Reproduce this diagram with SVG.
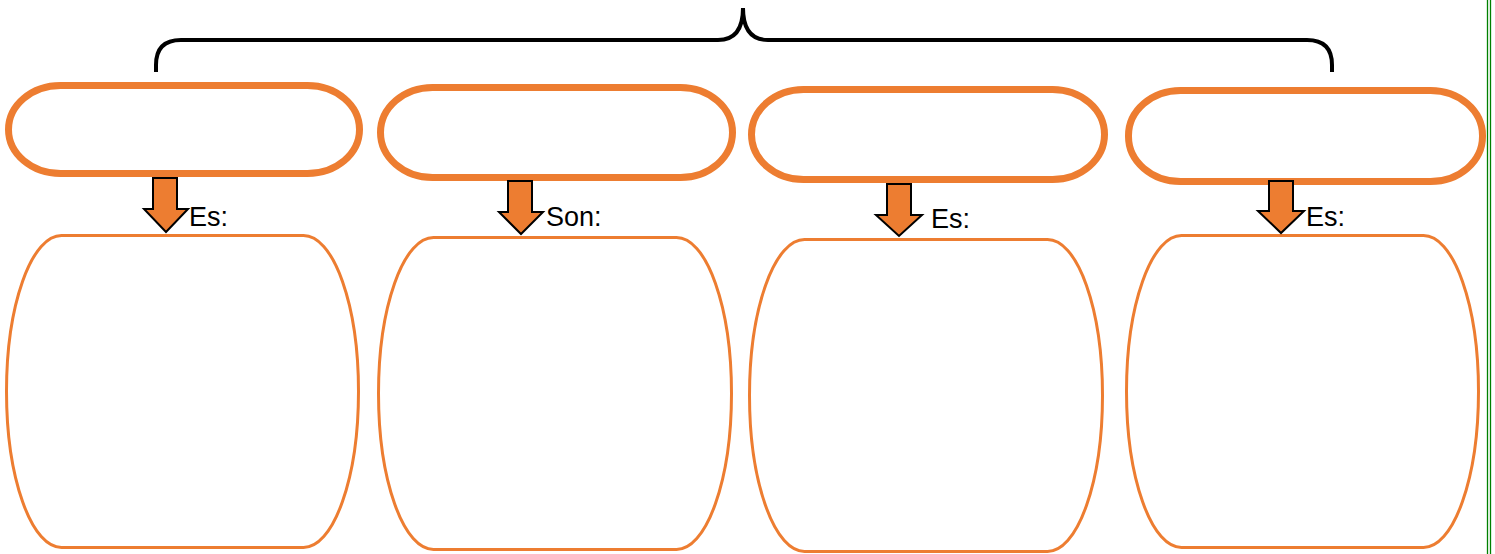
<svg xmlns="http://www.w3.org/2000/svg" width="1495" height="554" viewBox="0 0 1495 554">
<style>
.pill{fill:#fff;stroke:#ED7D31;stroke-width:7}
.box{fill:#fff;stroke:#ED7D31;stroke-width:3}
.arr{fill:#ED7D31;stroke:#000;stroke-width:2;stroke-linejoin:miter}
.lbl{font-family:"Liberation Sans",Arial,sans-serif;font-size:27px;fill:#000}
.brace{fill:none;stroke:#000;stroke-width:4;stroke-linecap:butt}
.border{stroke:#008000;stroke-width:1.3}
</style>
<rect width="1495" height="554" fill="#fff"/>
<g id="border">
<line class="border" x1="1487.5" y1="0" x2="1487.5" y2="554"/>
<line class="border" x1="1490.5" y1="0" x2="1490.5" y2="554"/>
</g>
<g id="brace">
<path class="brace" d="M156 72 V65 Q156 40 181 40 H718 Q743 40 743 8 Q743 40 768 40 H1307 Q1332 40 1332 65 V72"/>
</g>
<g id="node1">
<rect class="pill" x="8.5" y="85.5" width="351" height="88" rx="52" ry="44"/>
<rect class="box" x="6.5" y="235.5" width="352" height="312" rx="55" ry="156"/>
</g>
<g id="node2">
<rect class="pill" x="380.5" y="87.5" width="352" height="90" rx="52" ry="45"/>
<rect class="box" x="378.5" y="237.5" width="353" height="312" rx="55" ry="156"/>
</g>
<g id="node3">
<rect class="pill" x="751.5" y="89.5" width="353" height="90" rx="52" ry="45"/>
<rect class="box" x="749.5" y="239.5" width="353" height="312" rx="55" ry="156"/>
</g>
<g id="node4">
<rect class="pill" x="1128.5" y="90.5" width="354" height="91" rx="52" ry="45"/>
<rect class="box" x="1126.5" y="235.5" width="352" height="312" rx="55" ry="156"/>
</g>
<g id="connectors">
<path class="arr" d="M153 178 H177 V209 H188 L166 232 L144 209 H153 Z"/>
<path class="arr" d="M508 181 H532 V212 H543 L521 234 L499 212 H508 Z"/>
<path class="arr" d="M887 184 H911 V215 H922 L899 236 L876 215 H887 Z"/>
<path class="arr" d="M1269 181 H1293 V211 H1304 L1281 233 L1258 211 H1269 Z"/>
</g>
<g id="labels">
<text class="lbl" x="189" y="226">Es:</text>
<text class="lbl" x="546" y="226">Son:</text>
<text class="lbl" x="931" y="228">Es:</text>
<text class="lbl" x="1306" y="226">Es:</text>
</g>
</svg>
